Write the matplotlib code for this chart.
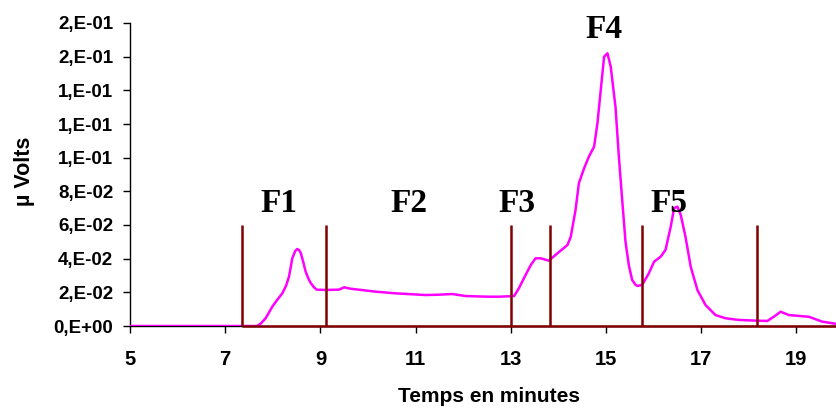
import matplotlib
matplotlib.use("Agg")
import matplotlib.pyplot as plt

# ---- data ----
time_min = [5.0, 7.67, 7.75, 7.85, 7.99, 8.10, 8.20, 8.28, 8.34, 8.41, 8.47, 8.51,
            8.55, 8.59, 8.64, 8.69, 8.75, 8.80, 8.86, 8.92, 9.1, 9.39, 9.50, 9.62,
            9.74, 10.16, 10.58, 11.21, 11.5, 11.77, 12.05, 12.54, 12.75, 13.07,
            13.17, 13.31, 13.42, 13.52, 13.63, 13.80, 13.98, 14.19, 14.26, 14.36,
            14.43, 14.54, 14.64, 14.75, 14.82, 14.89, 14.96, 15.03, 15.10, 15.20,
            15.27, 15.34, 15.41, 15.48, 15.55, 15.62, 15.66, 15.76, 15.90, 16.01,
            16.15, 16.25, 16.36, 16.43, 16.50, 16.57, 16.67, 16.78, 16.92, 17.09,
            17.30, 17.51, 17.79, 18.14, 18.39, 18.55, 18.67, 18.84, 19.26, 19.54,
            19.85]
signal = [0.0, 0.0, 0.0015, 0.0046, 0.0115, 0.0158, 0.0194, 0.024, 0.0293, 0.0402,
          0.0445, 0.0457, 0.0452, 0.0432, 0.038, 0.0323, 0.028, 0.0254, 0.0232,
          0.0216, 0.0214, 0.0216, 0.023, 0.0222, 0.0218, 0.0204, 0.0194, 0.0184,
          0.0186, 0.019, 0.0178, 0.0174, 0.0174, 0.0178, 0.0224, 0.0303, 0.0362,
          0.0402, 0.0402, 0.0388, 0.0432, 0.0481, 0.053, 0.0689, 0.0848, 0.0937,
          0.1006, 0.1065, 0.1204, 0.1402, 0.160, 0.162, 0.154, 0.130, 0.1006,
          0.0749, 0.0500, 0.0360, 0.0273, 0.0245, 0.0238, 0.0244, 0.0313, 0.0382,
          0.0412, 0.0452, 0.059, 0.070, 0.0709, 0.066, 0.053, 0.0352, 0.0214,
          0.0125, 0.0065, 0.0046, 0.0036, 0.0032, 0.0030, 0.006, 0.0085, 0.0065,
          0.0055, 0.0026, 0.0012]

fraction_bounds = [7.35, 9.11, 13.0, 13.82, 15.75, 18.17]
fraction_height = 0.06

fraction_names = ["F1", "F2", "F3", "F4", "F5"]
fraction_label_x = [8.13, 10.86, 13.13, 14.96, 16.32]
fraction_label_y = [0.073, 0.073, 0.073, 0.176, 0.073]

x_ticks = [5, 7, 9, 11, 13, 15, 17, 19]
y_ticks = [0.0, 0.02, 0.04, 0.06, 0.08, 0.10, 0.12, 0.14, 0.16, 0.18]
y_tick_labels = ["0,E+00", "2,E-02", "4,E-02", "6,E-02", "8,E-02",
                 "1,E-01", "1,E-01", "1,E-01", "2,E-01", "2,E-01"]

# ---- figure ----
W, H = 837, 409
fig = plt.figure(figsize=(W / 100, H / 100), dpi=100)
left_px, bottom_px, top_px = 130, 83, 23
ax = fig.add_axes([left_px / W, bottom_px / H, (W - left_px) / W, (H - bottom_px - top_px) / H])

xmax = 5 + (W - left_px) / 47.6
ax.set_xlim(5, xmax)
ax.set_ylim(0, 0.18)

# chromatogram
ax.plot(time_min, signal, color="#FF00FF", lw=1.8, zorder=4, solid_joinstyle="round")

# fraction markers
ax.hlines(0, fraction_bounds[0], xmax, color="#800000", lw=1.8, zorder=5, clip_on=False)
ax.vlines(fraction_bounds, 0, fraction_height, color="#800000", lw=1.8, zorder=5)

for name, fx, fy in zip(fraction_names, fraction_label_x, fraction_label_y):
    ax.text(fx, fy, name, ha="center", va="center", fontsize=24, fontweight="bold",
            family="Liberation Serif", zorder=6)

ax.set_xticks(x_ticks)
ax.set_xticklabels([str(v) for v in x_ticks], fontsize=14.5, fontweight="bold",
                   family="Liberation Sans")
ax.set_yticks(y_ticks)
ax.set_yticklabels(y_tick_labels, fontsize=13.5, fontweight="bold", family="Liberation Sans")
ax.tick_params(axis="both", direction="out", length=5, width=1, color="black")
ax.tick_params(axis="x", pad=12)
ax.tick_params(axis="y", pad=7)

for s in ["top", "right"]:
    ax.spines[s].set_visible(False)
ax.spines["left"].set_linewidth(1)
ax.spines["bottom"].set_linewidth(1)

fig.text(489 / W, 1 - 397 / H, "Temps en minutes", ha="center", va="center",
         fontsize=15, fontweight="bold", family="Liberation Sans")
fig.text(25 / W, 1 - 171 / H, "µ Volts", ha="center", va="center", rotation=90,
         fontsize=15.5, fontweight="bold", family="Liberation Sans")

fig.savefig("out.png", dpi=100)
